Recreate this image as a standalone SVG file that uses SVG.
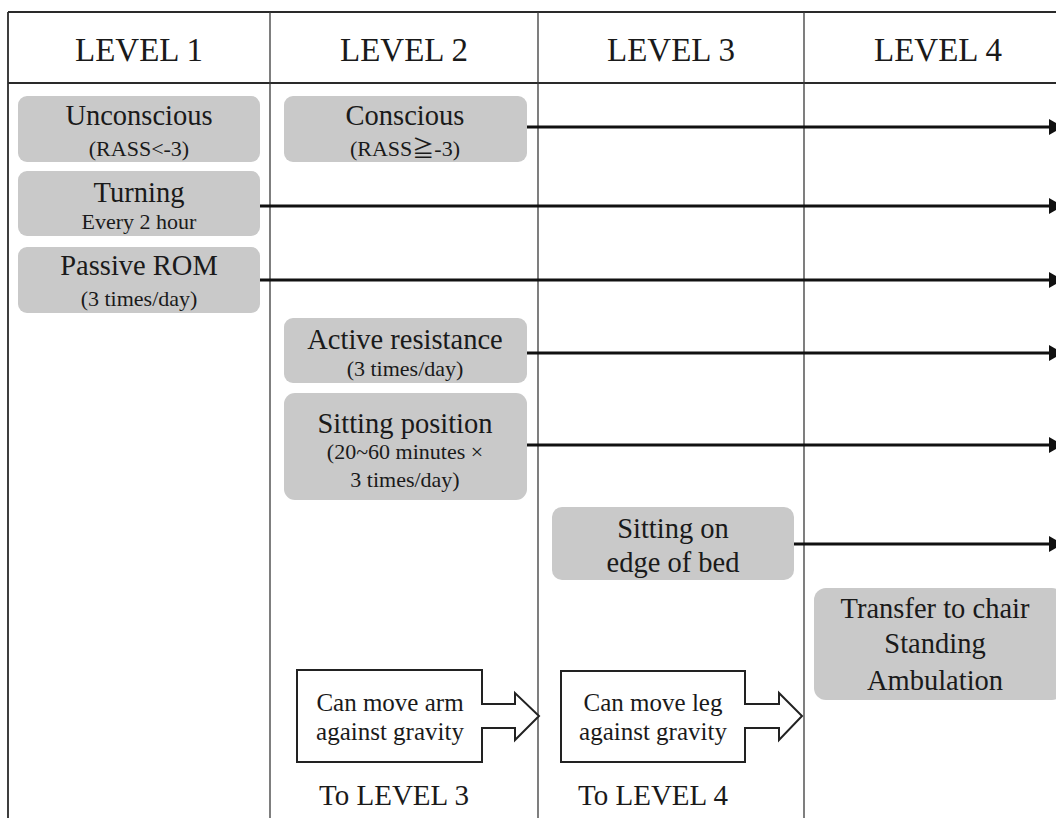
<svg xmlns="http://www.w3.org/2000/svg" width="1056" height="818" viewBox="0 0 1056 818">
<style>
text{font-family:"Liberation Serif","DejaVu Serif","Noto Sans CJK JP",serif;fill:#1a1a1a;text-anchor:middle}
.hd{font-size:33px}
.m{font-size:28.5px}
.s{font-size:22px}
.b{font-size:25px}
.lv{font-size:29px}
.box{fill:#c9c9c9}
.grid{stroke:#3a3a3a;stroke-width:1.3;fill:none}
.frame{stroke:#2a2a2a;stroke-width:1.8;fill:none}
.arr{stroke:#111;stroke-width:2.8;fill:none;marker-end:url(#ah)}
.blk{fill:#fff;stroke:#222;stroke-width:2}
</style>
<defs>
<marker id="ah" viewBox="0 0 14 16" refX="14" refY="8" markerUnits="userSpaceOnUse" markerWidth="14" markerHeight="16" orient="auto">
<path d="M0,0 L14,8 L0,16 Z" fill="#111"/>
</marker>
</defs>
<rect width="1056" height="818" fill="#fff"/>
<g id="grid">
<line class="frame" x1="8" y1="12" x2="1056" y2="12"/>
<line class="frame" x1="8" y1="12" x2="8" y2="818"/>
<line class="frame" x1="8" y1="83" x2="1056" y2="83"/>
<line class="grid" x1="270" y1="12" x2="270" y2="818"/>
<line class="grid" x1="538" y1="12" x2="538" y2="818"/>
<line class="grid" x1="804" y1="12" x2="804" y2="818"/>
</g>
<g id="headers">
<text class="hd" x="139" y="61">LEVEL 1</text>
<text class="hd" x="404" y="61">LEVEL 2</text>
<text class="hd" x="671" y="61">LEVEL 3</text>
<text class="hd" x="938" y="61">LEVEL 4</text>
</g>
<g id="connectors">
<line class="arr" x1="527" y1="127" x2="1063" y2="127"/>
<line class="arr" x1="260" y1="206" x2="1063" y2="206"/>
<line class="arr" x1="260" y1="280" x2="1063" y2="280"/>
<line class="arr" x1="527" y1="353" x2="1063" y2="353"/>
<line class="arr" x1="527" y1="445" x2="1063" y2="445"/>
<line class="arr" x1="794" y1="544" x2="1063" y2="544"/>
</g>
<g id="unconscious">
<rect class="box" x="18" y="96" width="242" height="66" rx="9"/>
<text class="m" x="139" y="125">Unconscious</text>
<text class="s" x="139" y="156">(RASS&lt;-3)</text>
</g>
<g id="turning">
<rect class="box" x="18" y="171" width="242" height="65" rx="9"/>
<text class="m" x="139" y="202">Turning</text>
<text class="s" x="139" y="229">Every 2 hour</text>
</g>
<g id="passive-rom">
<rect class="box" x="18" y="247" width="242" height="66" rx="9"/>
<text class="m" x="139" y="275">Passive ROM</text>
<text class="s" x="139" y="306">(3 times/day)</text>
</g>
<g id="conscious">
<rect class="box" x="284" y="96" width="243" height="66" rx="9"/>
<text class="m" x="405" y="125">Conscious</text>
<text class="s" x="405" y="156">(RASS≧-3)</text>
</g>
<g id="active-resistance">
<rect class="box" x="284" y="318" width="243" height="65" rx="9"/>
<text class="m" x="405" y="349">Active resistance</text>
<text class="s" x="405" y="376">(3 times/day)</text>
</g>
<g id="sitting-position">
<rect class="box" x="284" y="393" width="243" height="107" rx="11"/>
<text class="m" x="405" y="433">Sitting position</text>
<text class="s" x="405" y="459">(20~60 minutes ×</text>
<text class="s" x="405" y="487">3 times/day)</text>
</g>
<g id="sitting-edge">
<rect class="box" x="552" y="507" width="242" height="73" rx="10"/>
<text class="m" x="673" y="538">Sitting on</text>
<text class="m" x="673" y="572">edge of bed</text>
</g>
<g id="transfer">
<rect class="box" x="814" y="588" width="250" height="112" rx="12"/>
<text class="m" x="935" y="618">Transfer to chair</text>
<text class="m" x="935" y="653">Standing</text>
<text class="m" x="935" y="690">Ambulation</text>
</g>
<g id="arm-gate">
<path class="blk" d="M297,670 H482 V704 H515 V693 L539,716 L515,740 V728 H482 V762 H297 Z"/>
<text class="b" x="390" y="711">Can move arm</text>
<text class="b" x="390" y="740">against gravity</text>
<text class="lv" x="394" y="805">To LEVEL 3</text>
</g>
<g id="leg-gate">
<path class="blk" d="M561,671 H745 V704 H779 V693 L802,716 L779,740 V728 H745 V762 H561 Z"/>
<text class="b" x="653" y="711">Can move leg</text>
<text class="b" x="653" y="740">against gravity</text>
<text class="lv" x="653" y="805">To LEVEL 4</text>
</g>
</svg>
